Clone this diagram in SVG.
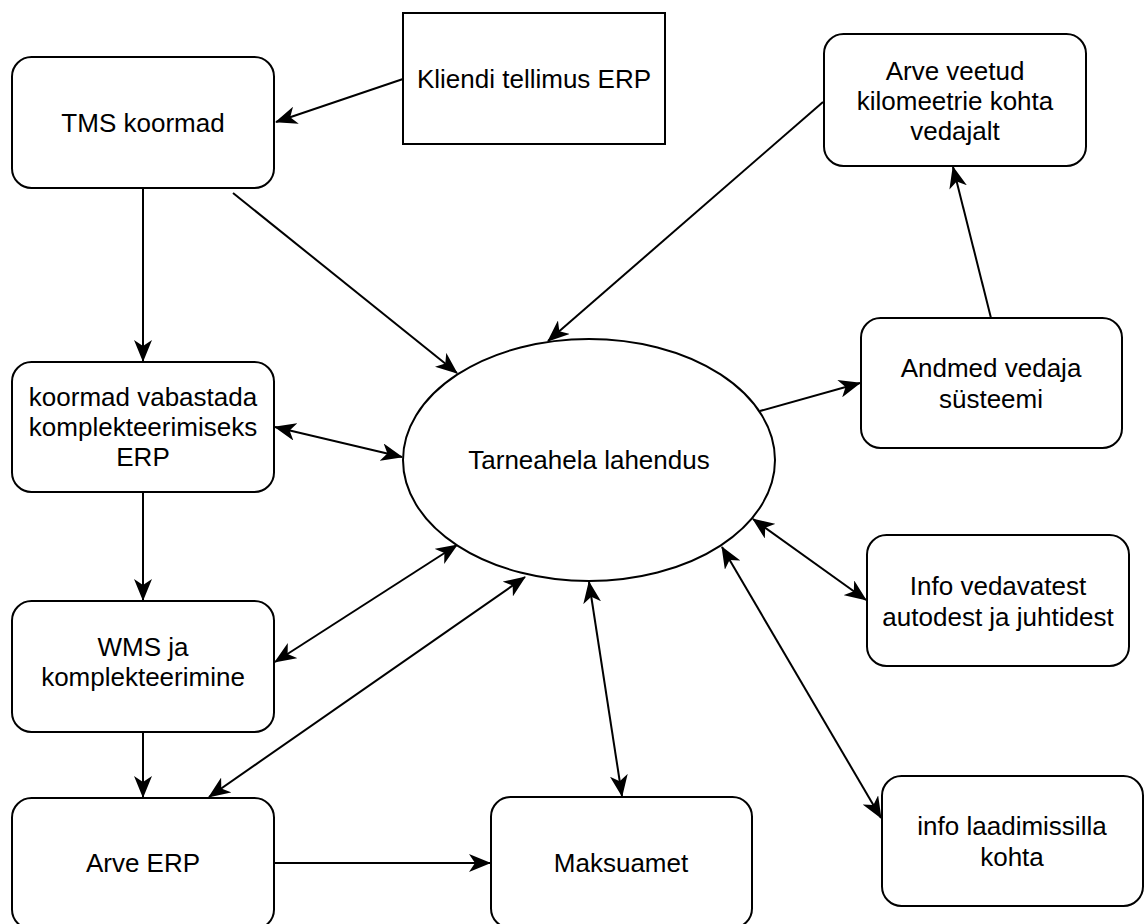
<svg xmlns="http://www.w3.org/2000/svg" width="1145" height="924" viewBox="0 0 1145 924">
<style>
.box{fill:#fff;stroke:#000;stroke-width:2}
.lbl{font-family:"Liberation Sans",Arial,Helvetica,sans-serif;font-size:26px;fill:#000;text-anchor:middle}
.edge{fill:none;stroke:#000;stroke-width:2}
</style>
<defs>
<marker id="arr" markerUnits="userSpaceOnUse" markerWidth="22" markerHeight="18" viewBox="0 0 22 18" refX="21" refY="9" orient="auto-start-reverse">
<path d="M0,0 L22,9 L0,18 L6,9 Z" fill="#000"/>
</marker>
</defs>
<rect width="1145" height="924" fill="#fff"/>
<g id="connectors">
<line class="edge" x1="403" y1="79" x2="276" y2="122" marker-end="url(#arr)"/>
<line class="edge" x1="143" y1="188" x2="143" y2="361" marker-end="url(#arr)"/>
<line class="edge" x1="233" y1="193" x2="457" y2="373" marker-end="url(#arr)"/>
<line class="edge" x1="823" y1="102" x2="548" y2="341" marker-end="url(#arr)"/>
<line class="edge" x1="760" y1="411" x2="860" y2="383" marker-end="url(#arr)"/>
<line class="edge" x1="991" y1="318" x2="953" y2="167" marker-end="url(#arr)"/>
<line class="edge" x1="275" y1="427" x2="402" y2="457" marker-start="url(#arr)" marker-end="url(#arr)"/>
<line class="edge" x1="143" y1="492" x2="143" y2="600" marker-end="url(#arr)"/>
<line class="edge" x1="275" y1="662" x2="457" y2="545" marker-start="url(#arr)" marker-end="url(#arr)"/>
<line class="edge" x1="143" y1="732" x2="143" y2="797" marker-end="url(#arr)"/>
<line class="edge" x1="209" y1="797" x2="525" y2="577" marker-start="url(#arr)" marker-end="url(#arr)"/>
<line class="edge" x1="274" y1="863" x2="490" y2="863" marker-end="url(#arr)"/>
<line class="edge" x1="622" y1="796" x2="589" y2="582" marker-start="url(#arr)" marker-end="url(#arr)"/>
<line class="edge" x1="753" y1="519" x2="866" y2="600" marker-start="url(#arr)" marker-end="url(#arr)"/>
<line class="edge" x1="722" y1="547" x2="881" y2="818" marker-start="url(#arr)" marker-end="url(#arr)"/>
</g>
<g id="tms">
<rect class="box" x="12" y="57" width="262" height="131" rx="19.5"/>
<text class="lbl" x="143" y="132">TMS koormad</text>
</g>
<g id="kliendi">
<rect class="box" x="403" y="13" width="262" height="131"/>
<text class="lbl" x="534" y="88">Kliendi tellimus ERP</text>
</g>
<g id="arve-veetud">
<rect class="box" x="824" y="34" width="262" height="132" rx="19.5"/>
<text class="lbl" x="955" y="80">Arve veetud</text>
<text class="lbl" x="955" y="110">kilomeetrie kohta</text>
<text class="lbl" x="955" y="140">vedajalt</text>
</g>
<g id="koormad">
<rect class="box" x="12" y="362" width="262" height="130" rx="19.5"/>
<text class="lbl" x="143" y="406">koormad vabastada</text>
<text class="lbl" x="143" y="436">komplekteerimiseks</text>
<text class="lbl" x="143" y="466">ERP</text>
</g>
<g id="tarneahela">
<ellipse class="box" cx="589" cy="460" rx="186" ry="121"/>
<text class="lbl" x="589" y="469">Tarneahela lahendus</text>
</g>
<g id="andmed">
<rect class="box" x="861" y="318" width="261" height="130" rx="19.5"/>
<text class="lbl" x="991" y="377">Andmed vedaja</text>
<text class="lbl" x="991" y="408">süsteemi</text>
</g>
<g id="wms">
<rect class="box" x="12" y="601" width="262" height="131" rx="19.5"/>
<text class="lbl" x="143" y="656">WMS ja</text>
<text class="lbl" x="143" y="686">komplekteerimine</text>
</g>
<g id="info-vedavatest">
<rect class="box" x="867" y="535" width="262" height="131" rx="19.5"/>
<text class="lbl" x="998" y="595">Info vedavatest</text>
<text class="lbl" x="998" y="626">autodest ja juhtidest</text>
</g>
<g id="arve-erp">
<rect class="box" x="12" y="798" width="262" height="131" rx="19.5"/>
<text class="lbl" x="143" y="872">Arve ERP</text>
</g>
<g id="maksuamet">
<rect class="box" x="491" y="797" width="261" height="131" rx="19.5"/>
<text class="lbl" x="621" y="872">Maksuamet</text>
</g>
<g id="info-laadimissilla">
<rect class="box" x="882" y="776" width="261" height="130" rx="19.5"/>
<text class="lbl" x="1012" y="835">info laadimissilla</text>
<text class="lbl" x="1012" y="866">kohta</text>
</g>
</svg>
